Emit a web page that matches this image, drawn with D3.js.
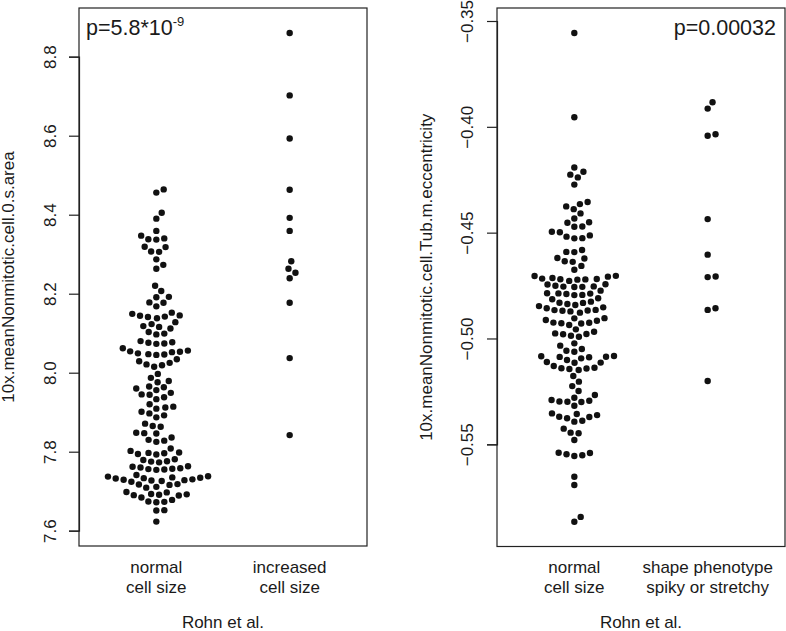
<!DOCTYPE html>
<html>
<head>
<meta charset="UTF-8">
<title>Rohn et al. beeswarm</title>
<style>
  body { margin: 0; background: #fff; }
  svg { display: block; font-family: "Liberation Sans", Arial, Helvetica, sans-serif; }
  text { fill: #1a1a1a; }
</style>
</head>
<body>
<svg id="chart"></svg>
<script src="https://d3js.org/d3.v7.min.js"></script>
<script>

let width = 786, height = 631;

// values
var areaNormal = [
  8.464, 8.456, 8.405, 8.390, 8.359, 8.347, 8.338, 8.337, 8.340, 8.319, 8.318, 8.307, 8.306, 8.287, 8.273, 8.263,
  8.220, 8.207, 8.192, 8.191, 8.178, 8.177, 8.168,
  8.152, 8.149, 8.144, 8.142, 8.138, 8.141, 8.145,
  8.118, 8.116, 8.128, 8.112, 8.123,
  8.103, 8.097, 8.099,
  8.076, 8.074, 8.073, 8.077, 8.080,
  8.062, 8.053, 8.049, 8.047, 8.045, 8.046, 8.052, 8.054, 8.056,
  8.034, 8.025, 8.021, 8.015, 8.019, 8.029,
  7.997, 7.987, 7.979, 7.976,
  7.960, 7.965, 7.956, 7.963,
  7.945, 7.944, 7.938, 7.949, 7.933,
  7.920, 7.909, 7.912, 7.914,
  7.901, 7.897, 7.887, 7.892,
  7.871, 7.865, 7.863,
  7.848, 7.847, 7.846, 7.830, 7.825, 7.828, 7.836,
  7.797, 7.802, 7.794, 7.793, 7.798, 7.796, 7.808,
  7.779, 7.776, 7.775, 7.773, 7.781,
  7.762, 7.758, 7.755, 7.756, 7.754, 7.757, 7.760, 7.763,
  7.738, 7.733, 7.730, 7.726, 7.735, 7.728, 7.737, 7.724, 7.741, 7.729, 7.727, 7.732, 7.734,
  7.711, 7.717, 7.718, 7.716, 7.709,
  7.697, 7.690, 7.692, 7.693, 7.691, 7.684, 7.689, 7.698,
  7.678, 7.673, 7.674, 7.672,
  7.651, 7.652,
  7.623
];
var areaIncreased = [8.860, 8.702, 8.593, 8.463, 8.392, 8.359, 8.282, 8.263, 8.253, 8.239, 8.177, 8.037, 7.842];

var eccNormal = [
  -0.3557, -0.3955,
  -0.4192, -0.4212, -0.4226, -0.4239, -0.4273,
  -0.4355, -0.4365, -0.4376, -0.4389, -0.4409,
  -0.4433, -0.4451, -0.4453, -0.4472, -0.4471,
  -0.4496, -0.4498, -0.4513, -0.4519, -0.4527, -0.4526,
  -0.4582, -0.4591, -0.4592,
  -0.4620, -0.4622, -0.4635, -0.4638,
  -0.4657, -0.4675,
  -0.4705, -0.4714, -0.4720, -0.4728, -0.4708, -0.4722, -0.4721, -0.4719, -0.4717, -0.4704,
  -0.4744, -0.4774, -0.4751, -0.4787, -0.4745, -0.4786, -0.4755, -0.4795, -0.4794, -0.4756, -0.4790, -0.4754, -0.4788, -0.4757,
  -0.4810, -0.4831, -0.4815, -0.4826, -0.4837, -0.4832,
  -0.4847, -0.4857, -0.4869, -0.4878, -0.4868, -0.4865, -0.4842, -0.4872, -0.4866, -0.4853,
  -0.4905, -0.4925, -0.4928, -0.4929, -0.4916, -0.4936, -0.4926, -0.4913, -0.4904,
  -0.4968, -0.4979, -0.4987, -0.4957, -0.4992, -0.4980, -0.4976,
  -0.5023, -0.5034, -0.5050, -0.5063, -0.5058,
  -0.5084, -0.5102, -0.5089, -0.5094, -0.5086, -0.5087, -0.5083, -0.5111, -0.5130, -0.5141, -0.5149, -0.5138, -0.5114, -0.5144, -0.5142, -0.5115,
  -0.5177, -0.5204, -0.5225, -0.5248, -0.5267,
  -0.5280, -0.5294, -0.5299, -0.5318, -0.5298, -0.5300, -0.5291,
  -0.5357, -0.5370, -0.5377, -0.5393, -0.5354, -0.5389, -0.5371, -0.5362,
  -0.5426, -0.5445, -0.5448, -0.5480,
  -0.5540, -0.5547, -0.5555, -0.5552, -0.5541,
  -0.5653, -0.5692,
  -0.5843, -0.5866
];
var eccShape = [-0.3884, -0.3914, -0.4035, -0.4042, -0.4436, -0.4604, -0.4707, -0.4710, -0.4857, -0.4865, -0.5201];

var areaTicks = [7.6, 7.8, 8.0, 8.2, 8.4, 8.6, 8.8];
var eccTicks = [-0.55, -0.50, -0.45, -0.40, -0.35];

var areaGroups = [["normal", "cell size"], ["increased", "cell size"]];
var eccGroups = [["normal", "cell size"], ["shape phenotype", "spiky or stretchy"]];

var svg = d3.select("#chart").attr("width", width).attr("height", height);

// beeswarm "swarm" layout, points placed in ascending order, nearest free slot to centre
function swarm(values, y, gap) {
  var pts = values.map(function(v) { return {v: v, y: y(v), x: 0}; });
  var order = pts.slice().sort(function(a, b) { return a.v - b.v; });
  var placed = [];
  order.forEach(function(p) {
    var near = placed.filter(function(q) { return Math.abs(q.y - p.y) < gap; });
    near.sort(function(a, b) { return Math.abs(a.x) - Math.abs(b.x); });
    var cand = [0];
    near.forEach(function(q) { cand.push(q.x + Math.sqrt(gap * gap - (q.y - p.y) * (q.y - p.y))); });
    near.forEach(function(q) { cand.push(q.x - Math.sqrt(gap * gap - (q.y - p.y) * (q.y - p.y))); });
    cand = cand.filter(function(c) {
      return near.every(function(q) {
        var dx = c - q.x, dy = p.y - q.y;
        return dx * dx + dy * dy >= gap * gap * 0.999;
      });
    });
    var best = cand[0];
    cand.forEach(function(c) { if (Math.abs(c) < Math.abs(best)) best = c; });
    p.x = best;
    placed.push(p);
  });
  return pts;
}

function panel(cfg) {
  var g = svg.append("g");
  var y = d3.scaleLinear().domain(cfg.tickDomain).range(cfg.tickRange);
  var x = d3.scalePoint().domain([0, 1]).range([cfg.left, cfg.right]).padding(0.58);

  // box
  g.append("rect")
    .attr("x", cfg.left).attr("y", cfg.top)
    .attr("width", cfg.right - cfg.left).attr("height", cfg.bottom - cfg.top)
    .attr("fill", "none").attr("stroke", "#222").attr("stroke-width", 1.2);

  // y axis
  var ax = g.append("g")
    .attr("transform", "translate(" + cfg.left + ",0)")
    .call(d3.axisLeft(y).tickValues(cfg.ticks).tickFormat(d3.format(cfg.fmt)).tickSize(10).tickPadding(0));
  ax.select(".domain").attr("stroke", "#222").attr("stroke-width", 1.2);
  ax.selectAll(".tick line").attr("stroke", "#222").attr("stroke-width", 1.2);
  ax.selectAll(".tick text")
    .attr("x", 0).attr("dy", null)
    .attr("transform", "translate(" + (cfg.tickLabelX - cfg.left) + ",0) rotate(-90)")
    .attr("text-anchor", "middle")
    .style("font-size", "17px")
    .style("fill", "#1a1a1a")
    .style("font-family", "'Liberation Sans', Arial, sans-serif");

  // y title
  g.append("text")
    .attr("transform", "translate(" + cfg.titleX + "," + ((cfg.top + cfg.bottom) / 2) + ") rotate(-90)")
    .attr("text-anchor", "middle")
    .style("font-size", "17px")
    .text(cfg.yTitle);

  // dots
  cfg.series.forEach(function(vals, i) {
    var pts = swarm(vals, y, 8);
    g.append("g").selectAll("circle")
      .data(pts)
      .enter()
      .append("circle")
      .attr("cx", function(d) { return x(i) + d.x; })
      .attr("cy", function(d) { return d.y; })
      .attr("r", 3.2)
      .attr("fill", "#111");
  });

  // category labels
  cfg.groups.forEach(function(lines, i) {
    lines.forEach(function(t, j) {
      g.append("text")
        .attr("x", x(i)).attr("y", 572.5 + j * 20.8)
        .attr("text-anchor", "middle")
        .style("font-size", "17px")
        .text(t);
    });
  });

  g.append("text")
    .attr("x", (cfg.left + cfg.right) / 2).attr("y", 627.5)
    .attr("text-anchor", "middle")
    .style("font-size", "17px")
    .text("Rohn et al.");

  return g;
}

var leftPanel = panel({
  left: 79, right: 367, top: 8, bottom: 546,
  tickDomain: [7.6, 8.8], tickRange: [530.7, 56.7],
  ticks: areaTicks, fmt: ".1f", tickLabelX: 56, titleX: 13.5,
  yTitle: "10x.meanNonmitotic.cell.0.s.area",
  series: [areaNormal, areaIncreased], groups: areaGroups
});

var rightPanel = panel({
  left: 497, right: 785, top: 8, bottom: 546.5,
  tickDomain: [-0.55, -0.35], tickRange: [444.3, 21],
  ticks: eccTicks, fmt: ".2f", tickLabelX: 473, titleX: 432,
  yTitle: "10x.meanNonmitotic.cell.Tub.m.eccentricity",
  series: [eccNormal, eccShape], groups: eccGroups
});

// p values
var pl = leftPanel.append("text")
  .attr("x", 86).attr("y", 34.5)
  .style("font-size", "21.5px");
pl.append("tspan").text("p=5.8*10");
pl.append("tspan").attr("dy", -9).style("font-size", "13px").text("-9");

rightPanel.append("text")
  .attr("x", 776).attr("y", 34.5)
  .attr("text-anchor", "end")
  .style("font-size", "21.5px")
  .text("p=0.00032");

</script>
</body>
</html>
